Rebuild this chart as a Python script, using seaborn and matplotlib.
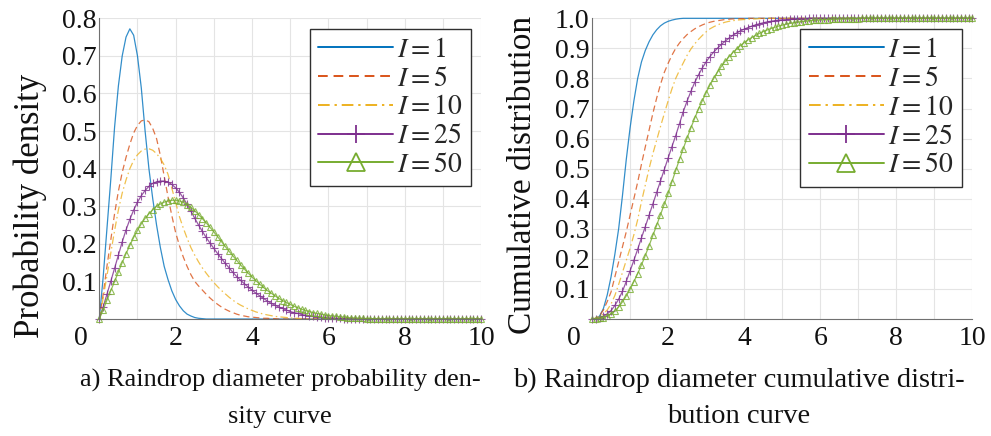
import numpy as np
import matplotlib
matplotlib.use("Agg")
import matplotlib.pyplot as plt
import matplotlib.transforms as mtransforms
from matplotlib.ticker import MultipleLocator, FixedLocator
import seaborn as sns

# ---------------- data ----------------
diameter = np.linspace(0, 10, 101)          # raindrop diameter grid, step 0.1
series_labels = ["$I=1$", "$I=5$", "$I=10$", "$I=25$", "$I=50$"]

pdf_i1 = [0.0, 0.11, 0.24, 0.37, 0.51, 0.62, 0.70, 0.75, 0.772, 0.755,
          0.70, 0.615, 0.50, 0.40, 0.32, 0.25, 0.19, 0.14, 0.105, 0.075,
          0.052, 0.035, 0.022, 0.013, 0.008, 0.004, 0.002, 0.001, 0, 0,
          0, 0, 0, 0, 0, 0, 0, 0, 0, 0,
          0, 0, 0, 0, 0, 0, 0, 0, 0, 0,
          0, 0, 0, 0, 0, 0, 0, 0, 0, 0,
          0, 0, 0, 0, 0, 0, 0, 0, 0, 0,
          0, 0, 0, 0, 0, 0, 0, 0, 0, 0,
          0, 0, 0, 0, 0, 0, 0, 0, 0, 0,
          0, 0, 0, 0, 0, 0, 0, 0, 0, 0,
          0]
pdf_i5 = [0.0, 0.065, 0.14, 0.21, 0.28, 0.34, 0.39, 0.43, 0.465, 0.495,
          0.515, 0.527, 0.530, 0.525, 0.507, 0.48, 0.435, 0.38, 0.325, 0.275,
          0.23, 0.195, 0.165, 0.14, 0.118, 0.10, 0.088, 0.077, 0.066, 0.056,
          0.047, 0.039, 0.032, 0.026, 0.021, 0.017, 0.013, 0.010, 0.008, 0.006,
          0.005, 0.004, 0.003, 0.002, 0.002, 0.001, 0.001, 0, 0, 0,
          0, 0, 0, 0, 0, 0, 0, 0, 0, 0,
          0, 0, 0, 0, 0, 0, 0, 0, 0, 0,
          0, 0, 0, 0, 0, 0, 0, 0, 0, 0,
          0, 0, 0, 0, 0, 0, 0, 0, 0, 0,
          0, 0, 0, 0, 0, 0, 0, 0, 0, 0,
          0]
pdf_i10 = [0.0, 0.055, 0.115, 0.175, 0.235, 0.29, 0.335, 0.37, 0.40, 0.422,
           0.437, 0.447, 0.452, 0.453, 0.449, 0.44, 0.427, 0.41, 0.385, 0.348,
           0.31, 0.272, 0.242, 0.215, 0.19, 0.17, 0.152, 0.136, 0.122, 0.109,
           0.097, 0.086, 0.076, 0.067, 0.058, 0.05, 0.043, 0.037, 0.032, 0.027,
           0.023, 0.019, 0.016, 0.013, 0.011, 0.009, 0.007, 0.006, 0.005, 0.004,
           0.003, 0.002, 0.002, 0.001, 0.001, 0, 0, 0, 0, 0,
           0, 0, 0, 0, 0, 0, 0, 0, 0, 0,
           0, 0, 0, 0, 0, 0, 0, 0, 0, 0,
           0, 0, 0, 0, 0, 0, 0, 0, 0, 0,
           0, 0, 0, 0, 0, 0, 0, 0, 0, 0,
           0]
pdf_i25 = [0.0, 0.032, 0.066, 0.10, 0.135, 0.17, 0.205, 0.237, 0.265, 0.29,
           0.311, 0.328, 0.342, 0.353, 0.361, 0.365, 0.367, 0.367, 0.364, 0.358,
           0.349, 0.337, 0.322, 0.305, 0.287, 0.268, 0.25, 0.233, 0.217, 0.202,
           0.188, 0.174, 0.161, 0.148, 0.136, 0.124, 0.113, 0.103, 0.094, 0.085,
           0.077, 0.069, 0.062, 0.055, 0.048, 0.042, 0.037, 0.032, 0.028, 0.024,
           0.02, 0.017, 0.015, 0.012, 0.01, 0.008, 0.007, 0.006, 0.005, 0.004,
           0.003, 0.003, 0.002, 0.002, 0.001, 0.001, 0.001, 0, 0, 0,
           0, 0, 0, 0, 0, 0, 0, 0, 0, 0,
           0, 0, 0, 0, 0, 0, 0, 0, 0, 0,
           0, 0, 0, 0, 0, 0, 0, 0, 0, 0,
           0]
pdf_i50 = [0.0, 0.024, 0.05, 0.075, 0.10, 0.125, 0.15, 0.174, 0.196, 0.217,
           0.236, 0.253, 0.268, 0.28, 0.291, 0.30, 0.306, 0.311, 0.314, 0.316,
           0.316, 0.314, 0.31, 0.304, 0.297, 0.288, 0.278, 0.267, 0.256, 0.244,
           0.232, 0.219, 0.206, 0.193, 0.18, 0.168, 0.156, 0.144, 0.133, 0.122,
           0.112, 0.102, 0.093, 0.084, 0.076, 0.069, 0.062, 0.055, 0.049, 0.044,
           0.039, 0.034, 0.03, 0.026, 0.023, 0.02, 0.017, 0.015, 0.013, 0.011,
           0.009, 0.008, 0.007, 0.006, 0.005, 0.004, 0.003, 0.003, 0.002, 0.002,
           0.001, 0.001, 0.001, 0, 0, 0, 0, 0, 0, 0,
           0, 0, 0, 0, 0, 0, 0, 0, 0, 0,
           0, 0, 0, 0, 0, 0, 0, 0, 0, 0,
           0]

cdf_i1 = [0.0, 0.002, 0.01, 0.035, 0.08, 0.14, 0.215, 0.30, 0.41, 0.53,
          0.635, 0.725, 0.80, 0.855, 0.893, 0.922, 0.945, 0.962, 0.975, 0.984,
          0.99, 0.994, 0.997, 0.999, 1, 1, 1, 1, 1, 1,
          1, 1, 1, 1, 1, 1, 1, 1, 1, 1,
          1, 1, 1, 1, 1, 1, 1, 1, 1, 1,
          1, 1, 1, 1, 1, 1, 1, 1, 1, 1,
          1, 1, 1, 1, 1, 1, 1, 1, 1, 1,
          1, 1, 1, 1, 1, 1, 1, 1, 1, 1,
          1, 1, 1, 1, 1, 1, 1, 1, 1, 1,
          1, 1, 1, 1, 1, 1, 1, 1, 1, 1,
          1]
cdf_i5 = [0.0, 0.003, 0.012, 0.03, 0.058, 0.09, 0.14, 0.19, 0.24, 0.29,
          0.345, 0.40, 0.455, 0.515, 0.572, 0.628, 0.684, 0.735, 0.78, 0.82,
          0.85, 0.877, 0.90, 0.918, 0.933, 0.946, 0.956, 0.965, 0.972, 0.978,
          0.983, 0.987, 0.99, 0.992, 0.994, 0.996, 0.997, 0.998, 0.998, 0.999,
          0.999, 1, 1, 1, 1, 1, 1, 1, 1, 1,
          1, 1, 1, 1, 1, 1, 1, 1, 1, 1,
          1, 1, 1, 1, 1, 1, 1, 1, 1, 1,
          1, 1, 1, 1, 1, 1, 1, 1, 1, 1,
          1, 1, 1, 1, 1, 1, 1, 1, 1, 1,
          1, 1, 1, 1, 1, 1, 1, 1, 1, 1,
          1]
cdf_i10 = [0.0, 0.002, 0.008, 0.018, 0.03, 0.05, 0.078, 0.115, 0.155, 0.195,
           0.235, 0.28, 0.33, 0.39, 0.445, 0.50, 0.55, 0.595, 0.64, 0.683,
           0.725, 0.765, 0.80, 0.827, 0.852, 0.877, 0.898, 0.915, 0.93, 0.943,
           0.955, 0.965, 0.972, 0.978, 0.983, 0.987, 0.99, 0.992, 0.994, 0.995,
           0.996, 0.997, 0.998, 0.998, 0.999, 0.999, 1, 1, 1, 1,
           1, 1, 1, 1, 1, 1, 1, 1, 1, 1,
           1, 1, 1, 1, 1, 1, 1, 1, 1, 1,
           1, 1, 1, 1, 1, 1, 1, 1, 1, 1,
           1, 1, 1, 1, 1, 1, 1, 1, 1, 1,
           1, 1, 1, 1, 1, 1, 1, 1, 1, 1,
           1]
cdf_i25 = [0.0, 0.001, 0.004, 0.009, 0.017, 0.028, 0.045, 0.066, 0.092, 0.125,
           0.16, 0.195, 0.232, 0.27, 0.307, 0.345, 0.383, 0.421, 0.459, 0.497,
           0.535, 0.573, 0.61, 0.65, 0.69, 0.725, 0.757, 0.787, 0.812, 0.835,
           0.855, 0.873, 0.888, 0.901, 0.913, 0.924, 0.934, 0.943, 0.951, 0.958,
           0.964, 0.969, 0.974, 0.978, 0.982, 0.985, 0.988, 0.99, 0.992, 0.994,
           0.995, 0.996, 0.997, 0.998, 0.998, 0.999, 0.999, 1, 1, 1,
           1, 1, 1, 1, 1, 1, 1, 1, 1, 1,
           1, 1, 1, 1, 1, 1, 1, 1, 1, 1,
           1, 1, 1, 1, 1, 1, 1, 1, 1, 1,
           1, 1, 1, 1, 1, 1, 1, 1, 1, 1,
           1]
cdf_i50 = [0.0, 0.0005, 0.002, 0.005, 0.01, 0.017, 0.027, 0.04, 0.057, 0.077,
           0.099, 0.124, 0.151, 0.18, 0.211, 0.244, 0.278, 0.312, 0.347, 0.382,
           0.418, 0.456, 0.494, 0.531, 0.567, 0.602, 0.636, 0.668, 0.698, 0.726,
           0.753, 0.778, 0.80, 0.821, 0.84, 0.857, 0.872, 0.886, 0.898, 0.909,
           0.919, 0.928, 0.936, 0.943, 0.95, 0.956, 0.961, 0.966, 0.97, 0.974,
           0.977, 0.98, 0.983, 0.985, 0.987, 0.989, 0.99, 0.992, 0.993, 0.994,
           0.995, 0.996, 0.996, 0.997, 0.997, 0.998, 0.998, 0.998, 0.999, 0.999,
           0.999, 1, 1, 1, 1, 1, 1, 1, 1, 1,
           1, 1, 1, 1, 1, 1, 1, 1, 1, 1,
           1, 1, 1, 1, 1, 1, 1, 1, 1, 1,
           1]

pdf_series = [pdf_i1, pdf_i5, pdf_i10, pdf_i25, pdf_i50]
cdf_series = [cdf_i1, cdf_i5, cdf_i10, cdf_i25, cdf_i50]
for s in pdf_series + cdf_series:
    assert len(s) == len(diameter), len(s)

pdf_yticks = [0.1, 0.2, 0.3, 0.4, 0.5, 0.6, 0.7, 0.8]
cdf_yticks = [0.1, 0.2, 0.3, 0.4, 0.5, 0.6, 0.7, 0.8, 0.9, 1.0]
xtick_values = [0, 2, 4, 6, 8, 10]

captions = [("a) Raindrop diameter probability den-", "sity curve"),
            ("b) Raindrop diameter cumulative distri-", "bution curve")]
ylabels = ["Probability density", "Cumulative distribution"]

# ---------------- style ----------------
sns.set_theme(style="white")
plt.rcParams["font.family"] = ["Liberation Serif", "DejaVu Serif"]
plt.rcParams["mathtext.fontset"] = "stix"

colors = ["#0072BD", "#D95319", "#EDB120", "#7E2F8E", "#77AC30"]
line_styles = [
    dict(linestyle="-"),
    dict(linestyle=(0, (5, 3))),
    dict(linestyle=(0, (6, 2.5, 1.2, 2.5))),
    dict(linestyle="-", marker="+", markersize=6),
    dict(linestyle="-", marker="^", markersize=5, markerfacecolor="none"),
]

fig = plt.figure(figsize=(9.91, 4.36), dpi=100)
ax1 = fig.add_axes([0.1002, 0.2683, 0.3852, 0.6897])
ax2 = fig.add_axes([0.5974, 0.2683, 0.3838, 0.6897])


def draw_panel(ax, series, ymax, yticks, ylabel, label_y, label_size, leg_anchor):
    for vals, lab, col, st in zip(series, series_labels, colors, line_styles):
        sns.lineplot(x=diameter, y=vals, ax=ax, color=col, label=lab,
                     linewidth=0.9, alpha=0.8, markeredgecolor=col,
                     markeredgewidth=0.8, clip_on=False, **st)
    ax.set_xlim(0, 10)
    ax.set_ylim(0, ymax)
    ax.xaxis.set_major_locator(FixedLocator(xtick_values))
    ax.xaxis.set_minor_locator(MultipleLocator(1))
    ax.yaxis.set_major_locator(FixedLocator(yticks))
    ax.yaxis.set_minor_locator(MultipleLocator(0.1))
    ax.set_xticklabels([str(v) for v in xtick_values])
    ax.set_yticklabels([f"{v:.1f}" for v in yticks])
    ax.grid(True, which="both", color="#e4e4e4", linewidth=0.8)
    ax.set_axisbelow(True)
    ax.tick_params(axis="both", which="both", direction="in", length=3,
                   color="#606060", labelsize=20, labelcolor="#111111")
    ax.tick_params(axis="x", pad=5)
    ax.tick_params(axis="y", pad=2)
    for side in ["top", "right"]:
        ax.spines[side].set_visible(False)
    for side in ["left", "bottom"]:
        ax.spines[side].set_color("#707070")
        ax.spines[side].set_linewidth(0.8)
    # the "0" tick label sits left of the corner in the reference
    first = ax.get_xticklabels()[0]
    first.set_transform(first.get_transform() +
                        mtransforms.ScaledTranslation(-0.18, 0, fig.dpi_scale_trans))
    ax.set_xlabel("")
    ax.set_ylabel(ylabel, fontsize=label_size, color="#111111", va="center")
    ax.yaxis.set_label_coords(-0.182, label_y)
    leg = ax.legend(loc="upper right", bbox_to_anchor=leg_anchor,
                    borderaxespad=0, fontsize=20, frameon=True, fancybox=False,
                    framealpha=1, edgecolor="#303030", handlelength=2.7,
                    handletextpad=0.15, borderpad=0.3, labelspacing=0.12)
    leg.get_frame().set_linewidth(1.0)
    for h in leg.legend_handles:
        h.set_linewidth(1.4)
        h.set_alpha(1)
        h.set_markersize(13)
        h.set_markeredgewidth(1.3)


draw_panel(ax1, pdf_series, 0.8, pdf_yticks, ylabels[0], 0.376, 25, (0.974, 0.964))
draw_panel(ax2, cdf_series, 1.0, cdf_yticks, ylabels[1], 0.478, 24, (0.972, 0.963))

caption_sizes = [19, 20.5]
for (line1, line2), cx, fs in zip(captions, [0.2825, 0.7455], caption_sizes):
    fig.text(cx, 0.128, line1, ha="center", va="center", fontsize=fs, color="#111111")
    fig.text(cx, 0.044, line2, ha="center", va="center", fontsize=fs, color="#111111")

fig.savefig("out.png", dpi=100)
